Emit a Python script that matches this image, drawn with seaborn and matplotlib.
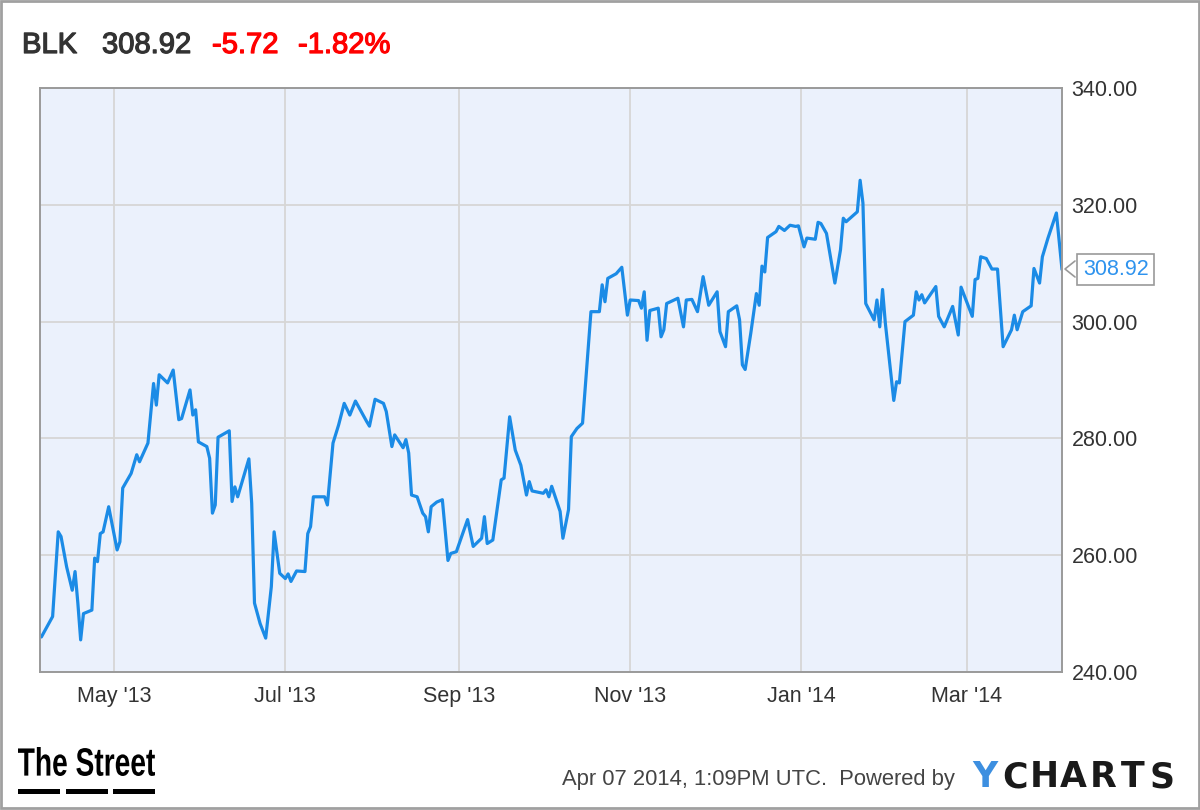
import pandas as pd
import matplotlib
matplotlib.use("Agg")
import matplotlib.pyplot as plt
import matplotlib.dates as mdates
import matplotlib.transforms as mtransforms
import matplotlib.patheffects as pe
from matplotlib.patches import PathPatch, Rectangle
from matplotlib.lines import Line2D
from matplotlib.textpath import TextPath
from matplotlib.font_manager import FontProperties
import seaborn as sns

# datos (BLK, abr 2013 - abr 2014)
fechas = [
    "2013-04-05", "2013-04-09", "2013-04-11", "2013-04-12", "2013-04-14", "2013-04-16",
    "2013-04-17", "2013-04-18", "2013-04-19", "2013-04-20", "2013-04-23", "2013-04-24",
    "2013-04-25", "2013-04-26", "2013-04-27", "2013-04-29",
    "2013-05-02", "2013-05-03", "2013-05-04", "2013-05-07", "2013-05-09", "2013-05-10",
    "2013-05-13", "2013-05-15", "2013-05-16", "2013-05-17", "2013-05-20", "2013-05-22",
    "2013-05-24", "2013-05-25", "2013-05-28", "2013-05-29", "2013-05-30", "2013-05-31",
    "2013-06-03", "2013-06-04", "2013-06-05", "2013-06-06", "2013-06-07", "2013-06-11",
    "2013-06-12", "2013-06-13", "2013-06-14", "2013-06-18", "2013-06-19", "2013-06-20",
    "2013-06-22", "2013-06-24", "2013-06-26", "2013-06-27", "2013-06-29",
    "2013-07-01", "2013-07-02", "2013-07-03", "2013-07-05", "2013-07-08", "2013-07-09",
    "2013-07-10", "2013-07-11", "2013-07-15", "2013-07-16", "2013-07-18", "2013-07-20",
    "2013-07-22", "2013-07-24", "2013-07-26", "2013-07-30", "2013-07-31",
    "2013-08-02", "2013-08-05", "2013-08-06", "2013-08-08", "2013-08-09", "2013-08-12",
    "2013-08-13", "2013-08-14", "2013-08-15", "2013-08-17", "2013-08-19", "2013-08-20",
    "2013-08-21", "2013-08-22", "2013-08-24", "2013-08-26", "2013-08-28", "2013-08-29",
    "2013-08-31",
    "2013-09-04", "2013-09-06", "2013-09-09", "2013-09-10", "2013-09-11", "2013-09-13",
    "2013-09-16", "2013-09-17", "2013-09-19", "2013-09-21", "2013-09-23", "2013-09-25",
    "2013-09-26", "2013-09-27",
    "2013-10-01", "2013-10-02", "2013-10-03", "2013-10-04", "2013-10-06", "2013-10-07",
    "2013-10-08", "2013-10-10", "2013-10-11", "2013-10-13", "2013-10-15", "2013-10-18",
    "2013-10-21", "2013-10-22", "2013-10-23", "2013-10-24", "2013-10-27", "2013-10-29",
    "2013-10-31",
    "2013-11-01", "2013-11-04", "2013-11-05", "2013-11-06", "2013-11-07", "2013-11-08",
    "2013-11-11", "2013-11-12", "2013-11-13", "2013-11-14", "2013-11-18", "2013-11-20",
    "2013-11-21", "2013-11-23", "2013-11-25", "2013-11-27", "2013-11-29",
    "2013-12-02", "2013-12-03", "2013-12-05", "2013-12-06", "2013-12-09", "2013-12-10",
    "2013-12-11", "2013-12-12", "2013-12-14", "2013-12-16", "2013-12-17", "2013-12-18",
    "2013-12-19", "2013-12-20", "2013-12-23", "2013-12-24", "2013-12-26", "2013-12-28",
    "2013-12-30", "2013-12-31",
    "2014-01-02", "2014-01-03", "2014-01-06", "2014-01-07", "2014-01-08", "2014-01-10",
    "2014-01-13", "2014-01-15", "2014-01-16", "2014-01-17", "2014-01-21", "2014-01-22",
    "2014-01-23", "2014-01-24", "2014-01-27", "2014-01-28", "2014-01-29", "2014-01-30",
    "2014-01-31",
    "2014-02-03", "2014-02-04", "2014-02-05", "2014-02-07", "2014-02-10", "2014-02-11",
    "2014-02-12", "2014-02-13", "2014-02-14", "2014-02-18", "2014-02-19", "2014-02-21",
    "2014-02-24", "2014-02-26", "2014-02-27",
    "2014-03-03", "2014-03-04", "2014-03-05", "2014-03-06", "2014-03-08", "2014-03-10",
    "2014-03-12", "2014-03-14", "2014-03-17", "2014-03-18", "2014-03-19", "2014-03-21",
    "2014-03-24", "2014-03-25", "2014-03-27", "2014-03-28", "2014-03-30",
    "2014-04-02", "2014-04-04",
]

precios = [
    246.0, 249.5, 264.0, 263.2, 258.0, 254.0,
    257.2, 251.8, 245.5, 250.0, 250.6, 259.5,
    258.9, 263.7, 264.0, 268.3,
    260.9, 262.3, 271.5, 274.0, 277.2, 276.0,
    279.2, 289.4, 285.7, 290.9, 289.5, 291.7,
    283.2, 283.4, 288.3, 284.0, 284.9, 279.4,
    278.6, 276.6, 267.2, 268.6, 280.2, 281.3,
    269.2, 271.7, 270.0, 276.5, 268.9, 251.8,
    248.3, 245.8, 254.6, 264.0, 256.9,
    256.0, 256.8, 255.5, 257.3, 257.2, 263.7,
    264.9, 270.0, 270.0, 268.6, 279.2, 282.3,
    286.0, 284.0, 286.4, 282.9, 282.1,
    286.7, 286.0, 284.6, 278.6, 280.6, 278.4,
    279.8, 277.5, 270.3, 270.0, 267.2, 266.6,
    264.0, 268.3, 269.1, 269.5, 259.1, 260.3,
    260.6,
    266.1, 261.5, 262.9, 266.6, 262.0, 262.6,
    272.9, 273.2, 283.7, 278.0, 275.4, 270.3,
    272.6, 271.0,
    270.6, 271.2, 270.0, 271.8, 268.9, 267.5,
    262.9, 267.8, 280.3, 281.7, 282.6, 301.7,
    301.7, 306.3, 303.4, 307.4, 308.2, 309.3,
    301.1,
    303.7, 303.6, 302.3, 305.1, 296.8, 301.9,
    302.3, 297.4, 298.6, 303.1, 304.0, 299.1,
    303.7, 303.8, 301.7, 307.7, 302.8,
    305.1, 298.3, 295.7, 301.7, 302.7, 300.3,
    292.6, 291.8, 298.0, 304.8, 302.8, 309.5,
    308.5, 314.4, 315.4, 316.3, 315.6, 316.5,
    316.3, 316.4,
    312.8, 314.3, 314.1, 317.0, 316.8, 315.1,
    306.6, 312.3, 317.7, 317.1, 318.8, 324.2,
    320.3, 303.1, 300.3, 303.7, 299.1, 305.5,
    299.7,
    286.5, 289.7, 289.5, 300.0, 301.1, 305.1,
    303.7, 304.6, 303.2, 306.0, 300.9, 299.1,
    302.6, 297.7, 305.9,
    300.9, 307.2, 307.4, 311.1, 310.8, 309.0,
    309.0, 295.7, 298.6, 301.1, 298.6, 301.7,
    302.7, 309.1, 306.6, 311.1, 314.3,
    318.6, 308.92,
]

ticker = "BLK"
ultimo = "308.92"
cambio = "-5.72"
cambio_pct = "-1.82%"
marca_tiempo = "Apr 07 2014, 1:09PM UTC.  Powered by"
yticks = [240, 260, 280, 300, 320, 340]

df = pd.DataFrame({"fecha": pd.to_datetime(fechas), "precio": precios})

sns.set_style("white")
plt.rcParams["font.family"] = ["Liberation Sans", "DejaVu Sans"]

fig = plt.figure(figsize=(12, 8.1), dpi=100)
ax = fig.add_axes([40 / 1200, 1 - 672 / 810, 1022 / 1200, 584 / 810])
ax.set_facecolor("#ebf1fc")

sns.lineplot(data=df, x="fecha", y="precio", ax=ax, color="#1b8be6", linewidth=2.3)

ax.set_xlim(pd.Timestamp("2013-04-04 12:00"), pd.Timestamp("2014-04-04"))
ax.set_ylim(240, 340)
ax.set_yticks(yticks)
ax.yaxis.tick_right()
ax.yaxis.set_major_formatter(matplotlib.ticker.FuncFormatter(lambda v, p: f"{v:.2f}"))
ax.xaxis.set_major_locator(mdates.MonthLocator(bymonth=[1, 3, 5, 7, 9, 11]))
ax.xaxis.set_major_formatter(mdates.DateFormatter("%b '%y"))
ax.tick_params(axis="both", length=0, labelsize=15.5, labelcolor="#333333")
ax.tick_params(axis="y", pad=7)
ax.tick_params(axis="x", pad=10)
ax.set_xlabel("")
ax.set_ylabel("")
ax.grid(True, color="#d6d6d6", linewidth=1.3)
for lado in ["left", "bottom", "top", "right"]:
    ax.spines[lado].set_visible(True)
    ax.spines[lado].set_color("#9a9a9a")
    ax.spines[lado].set_linewidth(1.4)

# etiqueta del ultimo valor
ax.annotate(ultimo, xy=(df["fecha"].iloc[-1], precios[-1]), xycoords="data",
            xytext=(15, 0), textcoords="offset points", ha="left", va="center",
            fontsize=15.5, color="#2e93ee", annotation_clip=False,
            bbox=dict(boxstyle="square,pad=0.25", fc="white", ec="#9a9a9a", lw=1.2))
# pico "<" de la etiqueta
fig.add_artist(Line2D([1075 / 1200, 1065 / 1200, 1075 / 1200],
                      [1 - 261 / 810, 1 - 269 / 810, 1 - 277 / 810],
                      transform=fig.transFigure, color="#9a9a9a", lw=1.2))

# cabecera (un trazo fino para engrosar la letra)
for x0, txt, col in [(22, ticker, "#333333"), (102, ultimo, "#333333"),
                     (212, cambio, "#ff0000"), (298, cambio_pct, "#ff0000")]:
    fig.text(x0 / 1200, 1 - 45 / 810, txt, fontsize=21, color=col, va="center",
             path_effects=[pe.withStroke(linewidth=0.9, foreground=col)])

# logo The Street
tp = TextPath((0, 0), "The Street", size=1, prop=FontProperties(family="Liberation Sans", weight="bold"))
ext = tp.get_extents()
tr = (mtransforms.Affine2D().translate(-ext.x0, -ext.y0)
      .scale(137 / ext.width, 29 / ext.height).translate(18, 810 - 776))
fig.add_artist(PathPatch(tp, transform=tr, fc="black", ec="none"))
for x0 in [18, 65.5, 113]:
    fig.add_artist(Rectangle((x0 / 1200, 1 - 794 / 810), 42 / 1200, 5 / 810,
                             transform=fig.transFigure, fc="black", ec="none"))

# pie derecho
fig.text(562 / 1200, 1 - 779 / 810, marca_tiempo, fontsize=15.8, color="#444444", va="center")
for i, letra in enumerate("YCHARTS"):
    fig.text((985 + i * 29.5) / 1200, 1 - 777 / 810, letra, fontsize=25, fontweight="bold",
             family="DejaVu Sans", color="#3d8fe0" if i == 0 else "#1a1a1a",
             ha="center", va="center")

# marco de la imagen
fig.add_artist(Rectangle((0.001, 0.002), 0.998, 0.997, transform=fig.transFigure,
                         fc="none", ec="#a0a0a0", lw=2))

fig.savefig("out.png", dpi=100)
plt.close()
